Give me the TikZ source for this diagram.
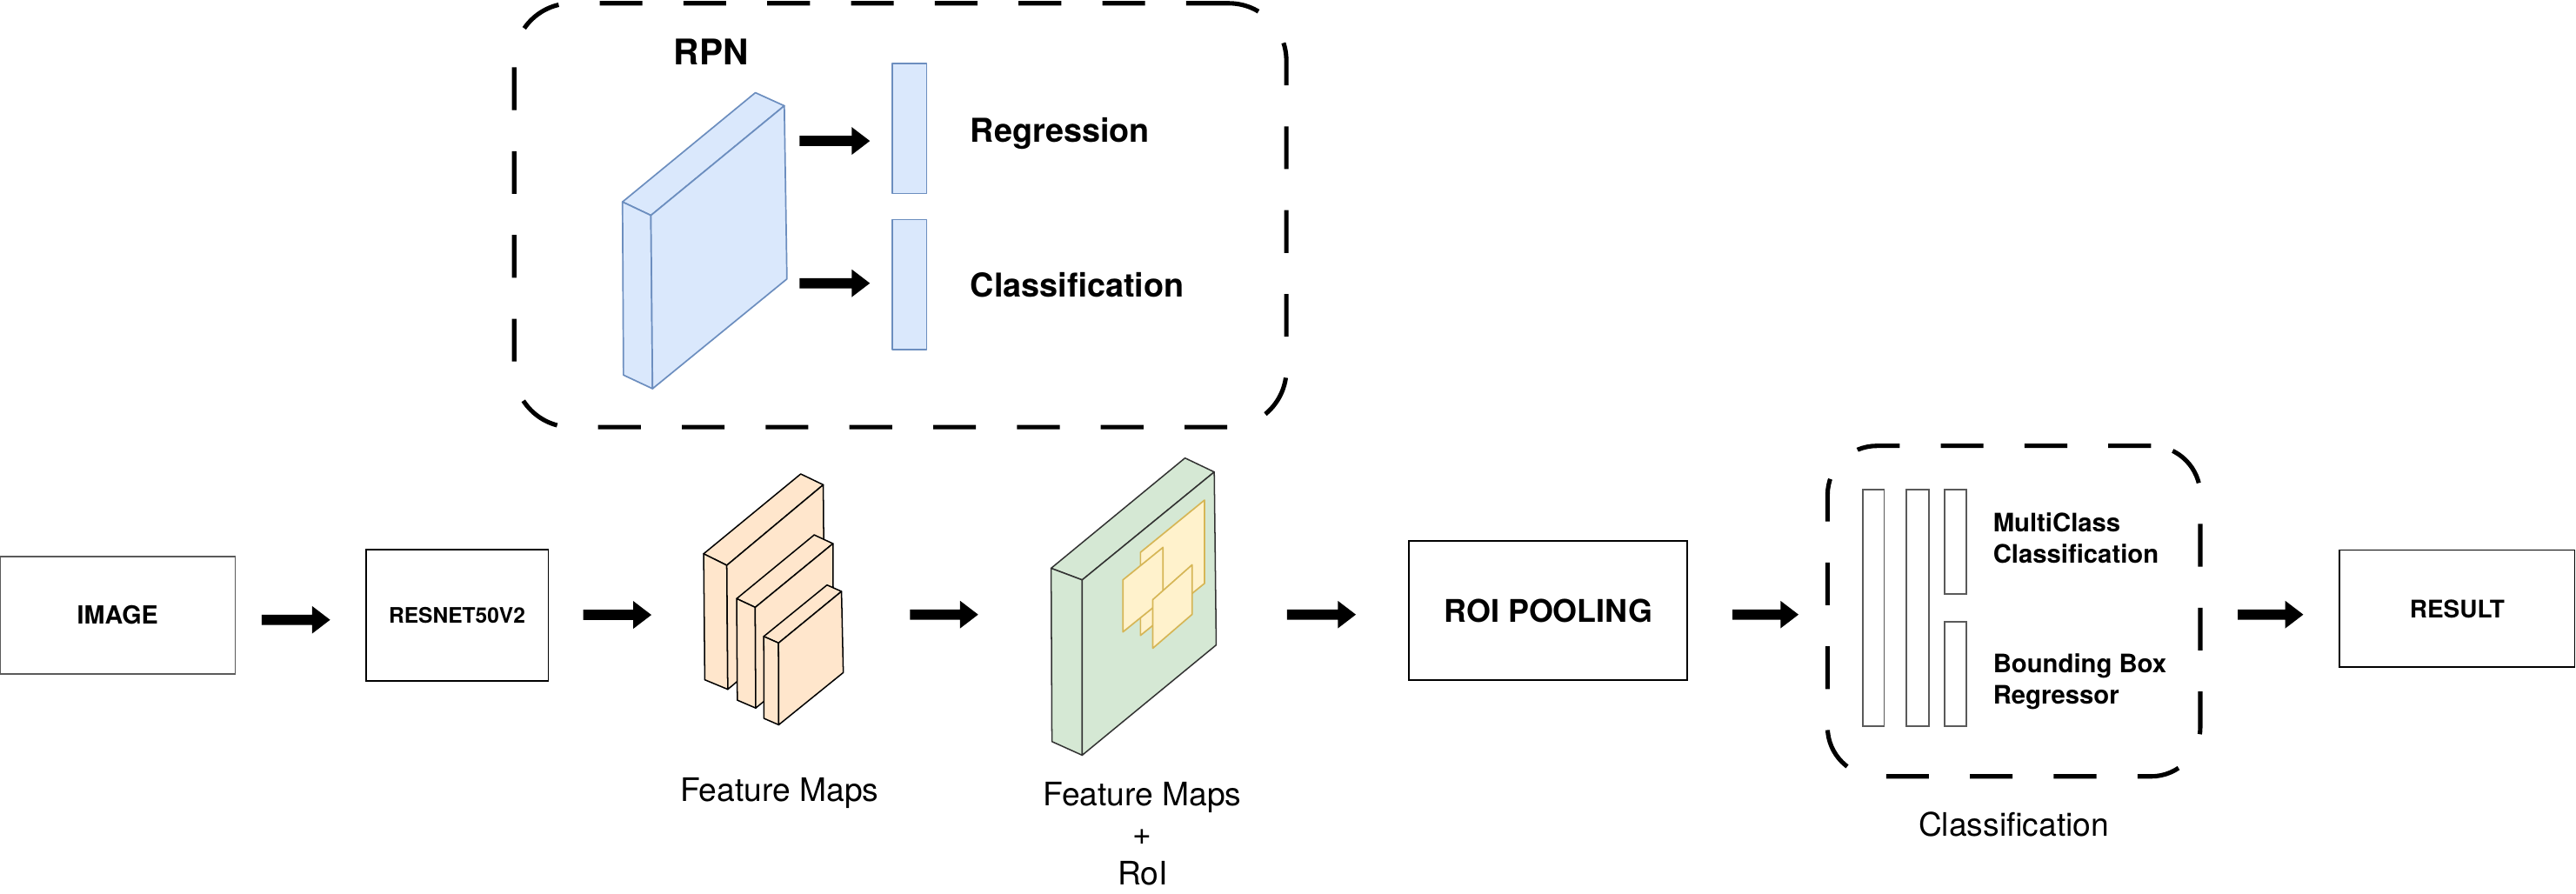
\documentclass[tikz,border=0pt]{standalone}
\usepackage{fontspec}
\setmainfont{TeX Gyre Heros}
\usetikzlibrary{calc}
\definecolor{blueF}{HTML}{DAE8FC}
\definecolor{blueD}{HTML}{6C8EBF}
\definecolor{orangeF}{HTML}{FFE6CC}
\definecolor{greenF}{HTML}{D5E8D4}
\definecolor{yellowF}{HTML}{FFF2CC}
\definecolor{yellowD}{HTML}{D6B656}
\definecolor{grayD}{HTML}{5A5A5A}
\newcommand\fsz[1]{\fontsize{#1}{#1}\selectfont}
\newcommand\blockarrow[2]{\fill[black] let \p1=(#1),\p2=(#2) in
  (\x1,\y1+3.1pt) -- (\x2-11pt,\y1+3.1pt) -- (\x2-11pt,\y1+8.4pt) -- (\x2,\y1)
  -- (\x2-11pt,\y1-8.4pt) -- (\x2-11pt,\y1-3.1pt) -- (\x1,\y1-3.1pt) -- cycle;}
\tikzset{
  procbox/.style={draw=black, line width=1pt, fill=white, inner sep=0pt, font=\bfseries},
  dashbox/.style={draw=black, line width=2.7pt, dash pattern=on 26pt off 25pt, inner sep=0pt},
  bluef/.style={fill=blueF, draw=blueD, line width=0.9pt, line join=round},
  orangef/.style={fill=orangeF, draw=black, line width=0.8pt, line join=round},
  greenf/.style={fill=greenF, draw=black!80, line width=0.8pt, line join=round},
  roif/.style={fill=yellowF, draw=yellowD, line width=0.9pt, line join=round},
  barf/.style={fill=white, draw=grayD, line width=0.9pt},
  lbl/.style={inner sep=0pt, font=\fsz{19.7}},
  blbl/.style={inner sep=0pt, font=\fsz{20}\bfseries},
  slbl/.style={inner sep=0pt, font=\fsz{15.5}\bfseries},
}
\begin{document}
\begin{tikzpicture}[x=1pt,y=-1pt]
\useasboundingbox (0,0) rectangle (1568,543.7);

% ---------- RPN group ----------
\node[dashbox, rounded corners=35pt, minimum width=470pt, minimum height=258pt] (rpn) at (548,131) {};
\node[blbl, font=\fsz{21.5}\bfseries, anchor=base west] (rpnlbl) at (410,39.5) {RPN};
% blue slab
\draw[bluef] (378.9,122.9) -- (459.8,56.4) -- (477.4,64.4) -- (396.2,131.1) -- cycle;
\draw[bluef] (378.9,122.9) -- (396.2,131.1) -- (397.2,236.6) -- (379.5,228.3) -- cycle;
\draw[bluef] (396.2,131.1) -- (477.4,64.4) -- (479,169.8) -- (397.2,236.6) -- cycle;
\coordinate (slabR1) at (479,85.8);
\coordinate (slabR2) at (479,172.4);
% bars
\node[bluef, inner sep=0pt, minimum width=21.1pt, minimum height=79.1pt, anchor=north west] (regbar) at (542.5,38.3) {};
\node[bluef, inner sep=0pt, minimum width=21.1pt, minimum height=79.1pt, anchor=north west] (clsbar) at (542.5,133.2) {};
\coordinate (r1s) at ($(slabR1)+(7.7,0)$);
\coordinate (r1e) at ($(regbar.west |- slabR1)+(-13,0)$);
\coordinate (r2s) at ($(slabR2)+(7.7,0)$);
\coordinate (r2e) at ($(clsbar.west |- slabR2)+(-13,0)$);
\blockarrow{r1s}{r1e}
\blockarrow{r2s}{r2e}
\node[blbl, anchor=base west] (reglbl) at (590.5,86.3) {Regression};
\node[blbl, anchor=base west] (clslbl) at (590.5,181) {Classification};

% ---------- main row ----------
\node[procbox, draw=grayD, minimum width=143.2pt, minimum height=71.5pt, font=\fsz{15.2}\bfseries] (img) at (71.6,374.5) {IMAGE};
\node[procbox, minimum width=111.1pt, minimum height=79.6pt, font=\fsz{13}\bfseries] (res) at (278.2,374.5) {RESNET50V2};
\coordinate (a1s) at ($(img.east)+(15.6,2.8)$);
\coordinate (a1e) at ($(res.west)+(-21.2,2.8)$);
\blockarrow{a1s}{a1e}

% orange feature maps
\draw[orangef] (428.3,337.1) -- (487.4,288.5) -- (501.1,295.1) -- (442.4,344.1) -- cycle;
\draw[orangef] (428.3,337.1) -- (442.4,344.1) -- (443,419.6) -- (429,413.8) -- cycle;
\draw[orangef] (442.4,344.1) -- (501.1,295.1) -- (501.7,370.6) -- (443,419.6) -- cycle;
\draw[orangef] (448.4,364.4) -- (495.6,325.6) -- (507,330.9) -- (459.7,369.7) -- cycle;
\draw[orangef] (448.4,364.4) -- (459.7,369.7) -- (460,431) -- (448.8,426.2) -- cycle;
\draw[orangef] (459.7,369.7) -- (507,330.9) -- (507.3,392.2) -- (460,431) -- cycle;
\draw[orangef] (464.9,387.4) -- (503.4,356.1) -- (512.2,360) -- (473.9,391.4) -- cycle;
\draw[orangef] (464.9,387.4) -- (473.9,391.4) -- (474,441.2) -- (465,437.3) -- cycle;
\draw[orangef] (473.9,391.4) -- (512.2,360) -- (513.3,409.4) -- (474,441.2) -- cycle;
\coordinate (fmL) at (428.3,374.3);
\coordinate (fmR) at (513.3,374.1);
\node[lbl, anchor=base] (fmlbl) at (474.4,487.9) {Feature Maps};
\coordinate (a2s) at ($(res.east)+(20.8,-0.2)$);
\coordinate (a2e) at ($(fmL)+(-31.8,0)$);
\blockarrow{a2s}{a2e}

% green feature map + RoIs
\draw[greenf] (639.8,345.9) -- (721.3,278.8) -- (739.1,287.3) -- (658.7,353) -- cycle;
\draw[greenf] (639.8,345.9) -- (658.7,353) -- (658.7,459.7) -- (640.3,451.4) -- cycle;
\draw[greenf] (658.7,353) -- (739.1,287.3) -- (740.3,392.6) -- (658.7,459.7) -- cycle;
\draw[roif] (694.2,336.2) -- (733.2,304.4) -- (733.2,355.1) -- (694.2,386.8) -- cycle;
\draw[roif] (683.5,353) -- (707.9,333.2) -- (707.9,365) -- (683.5,384.7) -- cycle;
\draw[roif] (701.7,365) -- (725.6,343.8) -- (725.6,374) -- (701.7,394.6) -- cycle;
\coordinate (gmL) at (639.8,374.1);
\coordinate (gmR) at (740.3,374.1);
\coordinate (a3s) at ($(fmR)+(40.6,0)$);
\coordinate (a3e) at ($(gmL)+(-44.4,0)$);
\blockarrow{a3s}{a3e}
\node[lbl, anchor=base] (gmlbl1) at (695.3,490.2) {Feature Maps};
\node[lbl, anchor=base] (gmlbl2) at (695.3,514.5) {+};
\node[lbl, anchor=base] (gmlbl3) at (695.5,538.7) {RoI};

% ROI pooling
\node[procbox, minimum width=169.6pt, minimum height=84.7pt, font=\fsz{19}\bfseries] (roi) at (942.4,371.8) {ROI POOLING};
\coordinate (a4s) at ($(gmR)+(43.1,0)$);
\coordinate (a4e) at ($(roi.west)+(-31.8,2.3)$);
\blockarrow{a4s}{a4e}

% classification group
\node[dashbox, rounded corners=30pt, minimum width=226.9pt, minimum height=201.2pt] (cls) at (1225.85,372) {};
\node[barf, inner sep=0pt, minimum width=13.1pt, minimum height=143.8pt, anchor=north west] (b1) at (1133.3,297.7) {};
\node[barf, inner sep=0pt, minimum width=13.7pt, minimum height=143.8pt, anchor=north west] (b2) at (1159.8,297.7) {};
\node[barf, inner sep=0pt, minimum width=13.1pt, minimum height=63.5pt, anchor=north west] (b3) at (1183.3,297.7) {};
\node[barf, inner sep=0pt, minimum width=13.1pt, minimum height=63.5pt, anchor=north west] (b4) at (1183.3,378) {};
\node[slbl, anchor=base west] (mc1) at (1213,323.8) {MultiClass};
\node[slbl, anchor=base west] (mc2) at (1213,342.7) {Classification};
\node[slbl, anchor=base west] (bb1) at (1213,409.4) {Bounding Box};
\node[slbl, anchor=base west] (bb2) at (1213,428.5) {Regressor};
\node[lbl, anchor=base] (clsname) at (1225.8,509.1) {Classification};
\coordinate (a5s) at ($(roi.east)+(26.8,2.3)$);
\coordinate (a5e) at ($(cls.west)+(-16.3,2.1)$);
\blockarrow{a5s}{a5e}

% result
\node[procbox, minimum width=143pt, minimum height=71.4pt, font=\fsz{14.8}\bfseries] (resu) at (1495.7,370.5) {RESULT};
\coordinate (a6s) at ($(cls.east)+(21.5,2.1)$);
\coordinate (a6e) at ($(resu.west)+(-21.7,3.6)$);
\blockarrow{a6s}{a6e}
\end{tikzpicture}
\end{document}
